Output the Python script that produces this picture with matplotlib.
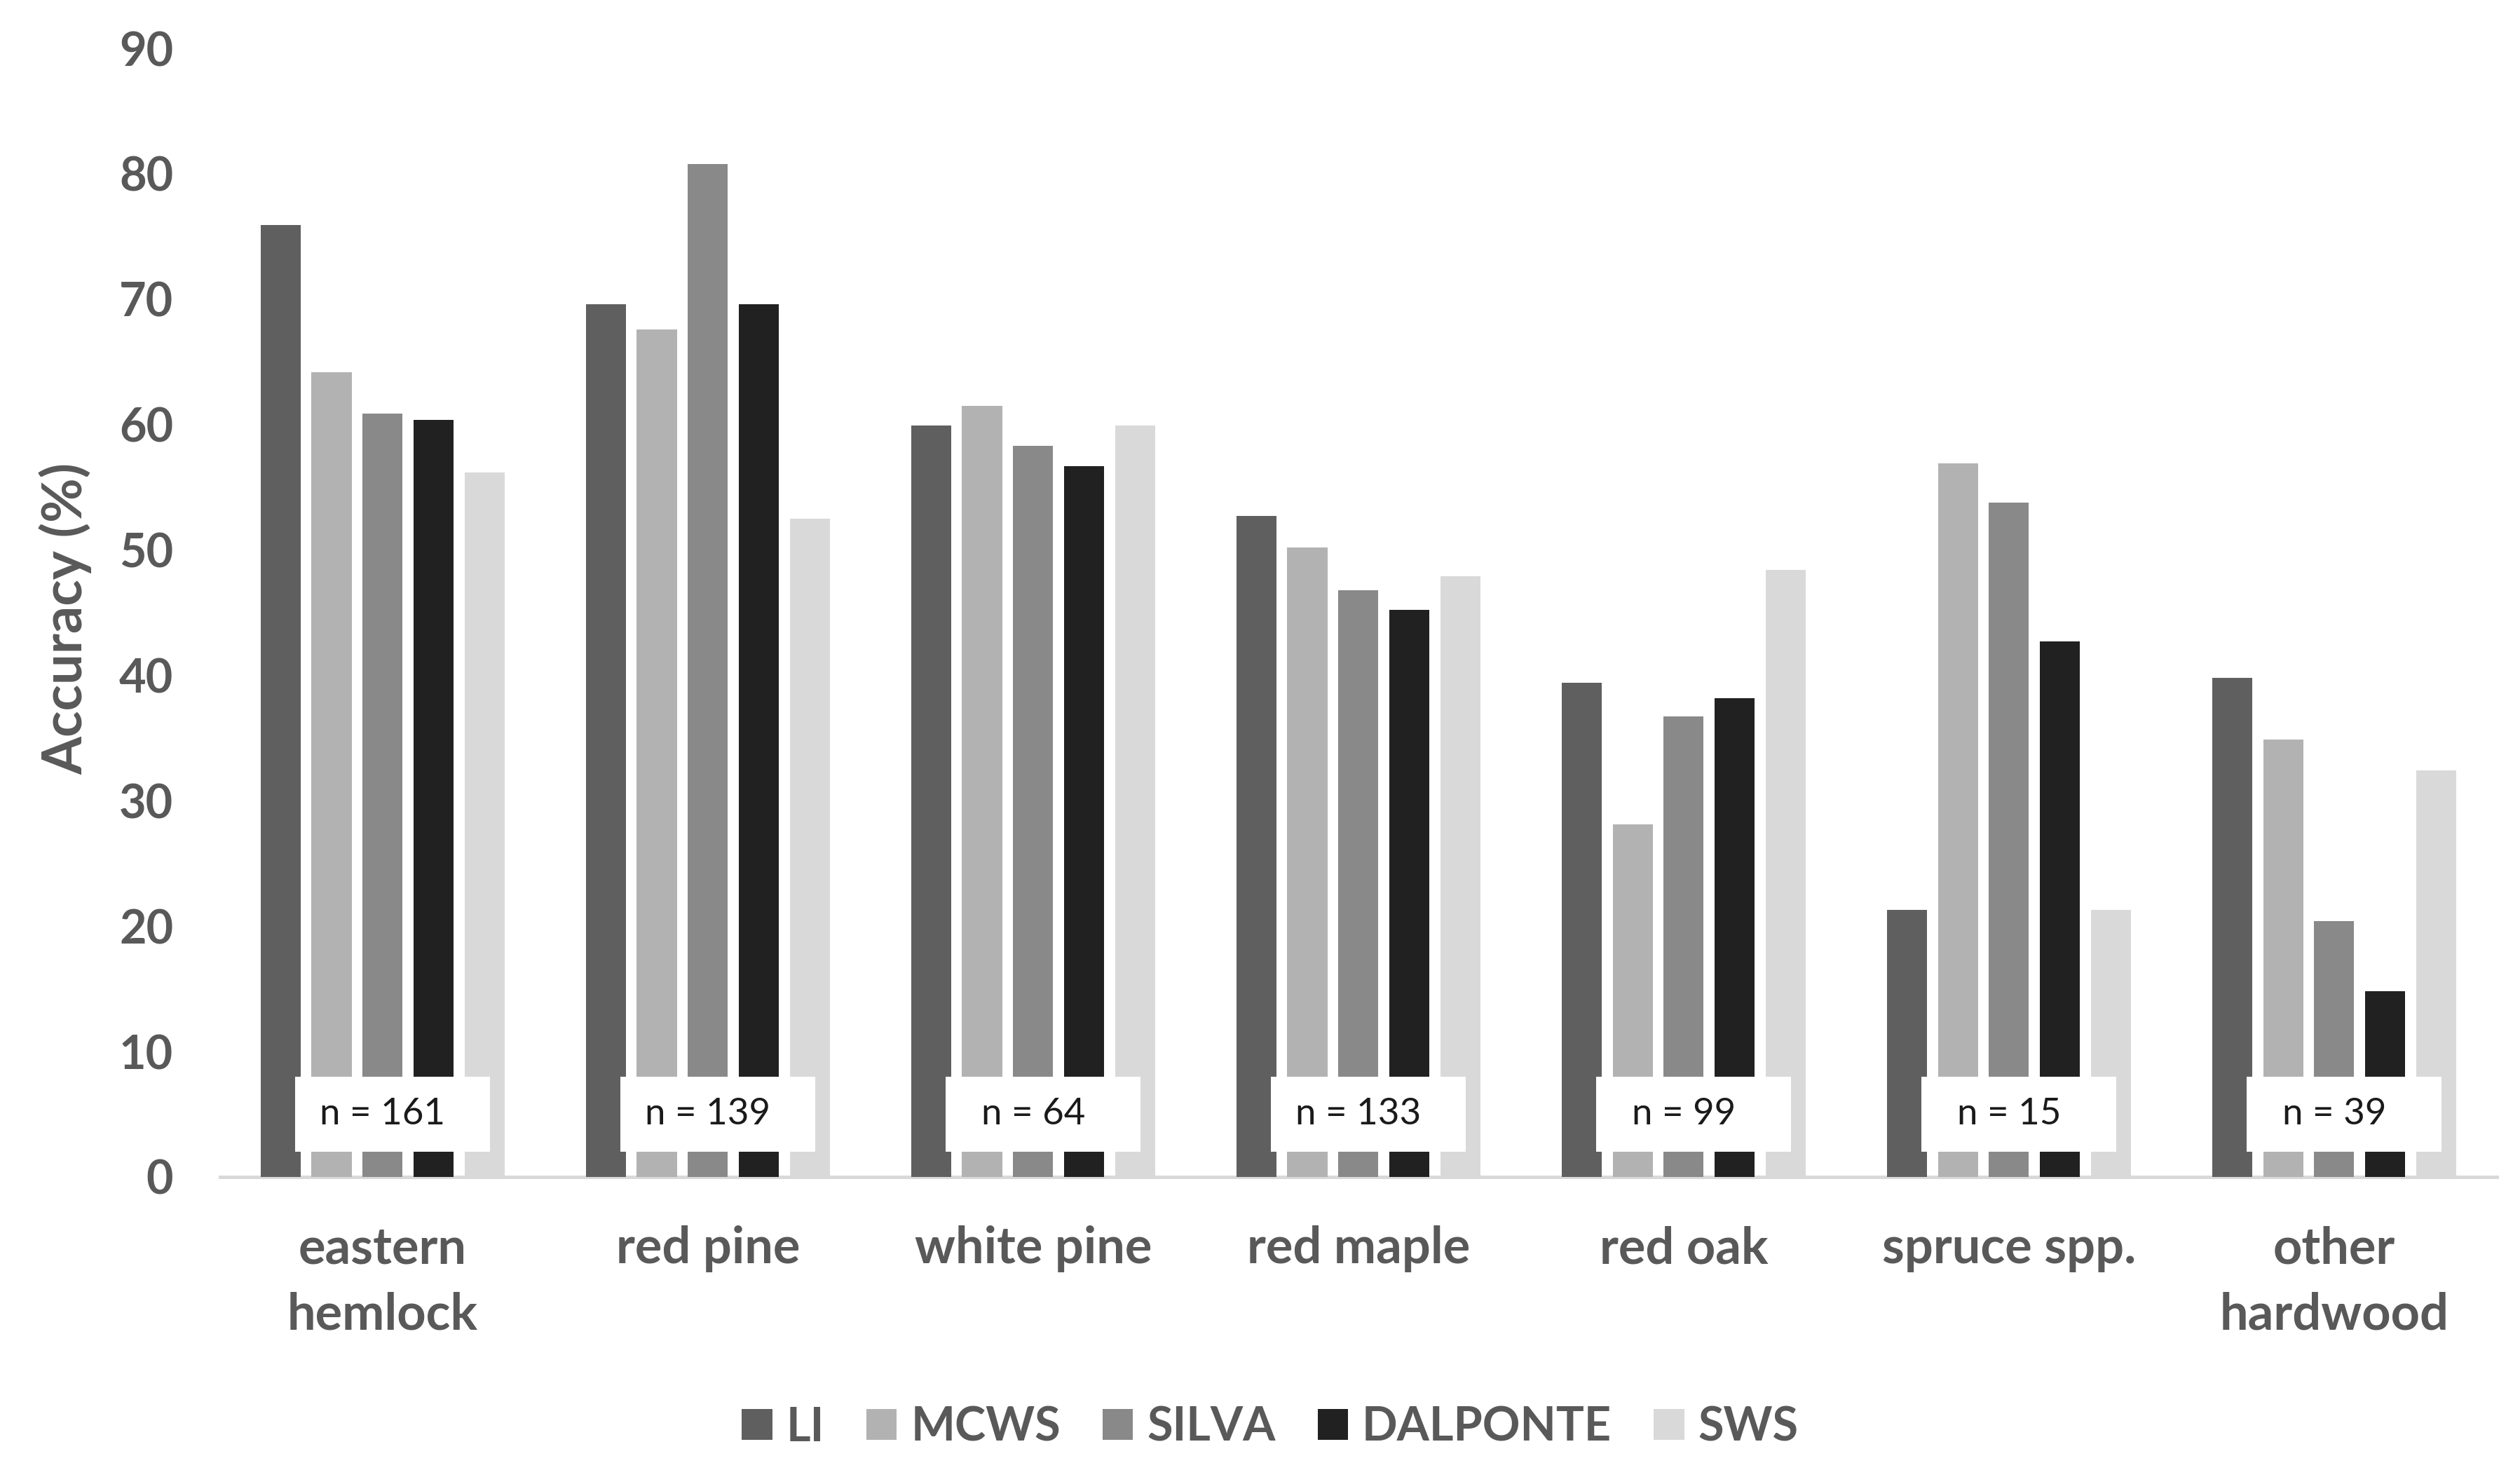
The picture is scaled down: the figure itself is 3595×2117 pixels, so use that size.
import matplotlib
matplotlib.use('Agg')
import matplotlib.pyplot as plt
from matplotlib.patches import Rectangle, Patch
import numpy as np

plt.rcParams['font.family'] = ['Lato', 'DejaVu Sans']

# categories and sample sizes
species = ['eastern\nhemlock', 'red pine', 'white pine', 'red maple',
           'red oak', 'spruce spp.', 'other\nhardwood']
n_trees = [161, 139, 64, 133, 99, 15, 39]

# accuracy (%) per segmentation method
methods = ['LI', 'MCWS', 'SILVA', 'DALPONTE', 'SWS']
li = [75.9, 69.6, 59.9, 52.7, 39.4, 21.3, 39.8]
mcws = [64.2, 67.6, 61.5, 50.2, 28.1, 56.9, 34.9]
silva = [60.9, 80.8, 58.3, 46.8, 36.7, 53.8, 20.4]
dalponte = [60.4, 69.6, 56.7, 45.2, 38.2, 42.7, 14.8]
sws = [56.2, 52.5, 59.9, 47.9, 48.4, 21.3, 32.4]
colors = ['#5f5f5f', '#b2b2b2', '#898989', '#212121', '#d9d9d9']

series = [li, mcws, silva, dalponte, sws]
grey = '#595959'

fig = plt.figure(figsize=(17.975, 10.585), dpi=200)
ax = fig.add_axes([0.0873, 0.2069, 0.9035, 0.7605])

x = np.arange(len(species))
width = 0.123
step = 0.157
for i, (vals, col) in enumerate(zip(series, colors)):
    ax.bar(x + (i - 2) * step, vals, width, color=col, zorder=2)

# white boxes with sample sizes
for xi, n in zip(x, n_trees):
    ax.add_patch(Rectangle((xi - 0.27, 2.0), 0.60, 6.0, facecolor='white',
                           edgecolor='none', zorder=3))
    ax.text(xi + 0.0, 5.0, 'n = %d' % n, ha='center', va='center',
            fontsize=19, color='#1a1a1a', zorder=4)

ax.set_xlim(-0.5, len(species) - 0.5)
ax.set_ylim(0, 90)
ax.set_yticks(range(0, 91, 10))
ax.set_xticks(x)
ax.set_xticklabels(species, linespacing=1.5)

for s in ['top', 'right', 'left']:
    ax.spines[s].set_visible(False)
ax.spines['bottom'].set_color('#d9d9d9')
ax.spines['bottom'].set_linewidth(1.8)
ax.spines['bottom'].set_zorder(1)

ax.tick_params(axis='y', length=0, pad=24, labelsize=24, labelcolor=grey)
ax.tick_params(axis='x', length=0, pad=25, labelsize=26, labelcolor=grey)
for lab in ax.get_xticklabels() + ax.get_yticklabels():
    lab.set_fontweight('bold')

fig.text(0.026, 0.583, 'Accuracy (%)', rotation=90, ha='center', va='center',
         fontsize=28, fontweight='bold', color=grey)

handles = [Patch(facecolor=c, edgecolor='none') for c in colors]
leg = fig.legend(handles, methods, loc='center', bbox_to_anchor=(0.504, 0.038),
                 ncol=5, frameon=False, handlelength=0.65, handleheight=0.65,
                 handletextpad=0.3, columnspacing=0.9,
                 prop={'size': 24, 'weight': 'bold'})
for t in leg.get_texts():
    t.set_color(grey)

fig.savefig('out.png', dpi=200, facecolor='white')
